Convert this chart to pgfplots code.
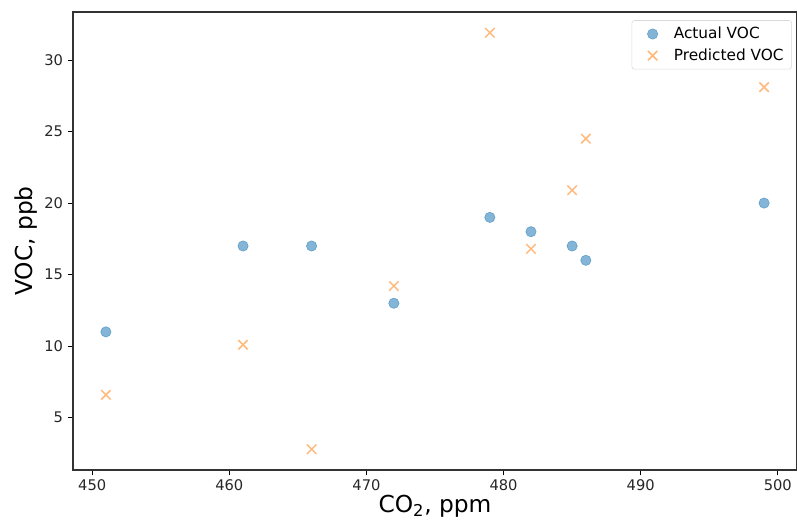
\documentclass[border=0pt]{standalone}
\usepackage{fontspec}
\setmainfont{DejaVu Sans}
\usepackage{pgfplots}
\pgfplotsset{compat=1.18}

\definecolor{actual}{HTML}{1F77B4}
\definecolor{predicted}{HTML}{FF7F0E}

\begin{document}
\begin{tikzpicture}
    \begin{axis}[
        name=ax,
        scale only axis,
        width=543pt, height=343.5pt,
        xmin=448.6, xmax=501.4,
        ymin=1.35, ymax=33.35,
        xtick={450,460,...,500},
        ytick={5,10,...,30},
        tick align=outside,
        tick pos=left,
        major tick length=4pt,
        tick style={black, line width=0.6pt},
        axis line style={line width=0.8pt, black!80},
        ticklabel style={font=\fontsize{11}{13}\selectfont, text=black!85},
        /pgf/number format/assume math mode=true,
        xlabel={CO\textsubscript{2}, ppm},
        ylabel={VOC, ppb},
        label style={font=\fontsize{17.5}{20}\selectfont},
        xlabel style={yshift=4pt},
        ylabel style={yshift=-2pt},
        legend style={
            at={(0.993,0.982)}, anchor=north east,
            draw=black!15, rounded corners=2pt,
            font=\fontsize{11.5}{14}\selectfont,
            inner xsep=4pt, inner ysep=3pt,
            row sep=2pt,
            /tikz/every odd column/.append style={column sep=8pt},
        },
        legend image code/.code={
            \path (0cm,0cm) (0.6cm,0cm);
            \draw[#1] plot coordinates {(0.4cm,0cm)};
        },
        legend cell align={left},
    ]
    % Actual VOC
    \addplot[
        only marks,
        mark=*,
        mark size=3.9pt,
        mark options={draw=actual, fill=actual, draw opacity=0.55, fill opacity=0.55},
    ]
    coordinates {
        (451,11) (461,17) (466,17) (472,13) (479,19) (482,18) (485,17) (486,16) (499,20)
    };
    \addlegendentry{Actual VOC}

    % Predicted VOC
    \addplot[
        only marks,
        mark=x,
        mark size=5pt,
        mark options={draw=predicted, draw opacity=0.55, line width=1.1pt},
    ]
    coordinates {
        (451,6.6) (461,10.1) (466,2.8) (472,14.2) (479,31.9) (482,16.8) (485,20.9) (486,24.5) (499,28.1)
    };
    \addlegendentry{Predicted VOC}
    \end{axis}
    \pgfresetboundingbox
    \path ([shift={(-54.75pt,-44.25pt)}]ax.south west) rectangle ([shift={(0pt,9pt)}]ax.north east);
\end{tikzpicture}
\end{document}
